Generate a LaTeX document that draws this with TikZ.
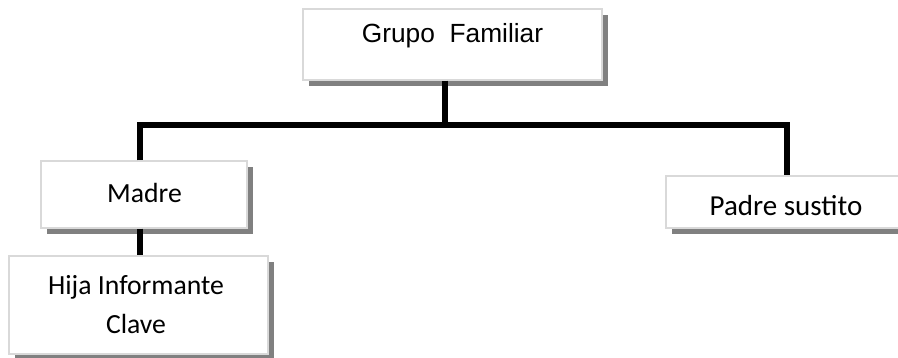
\documentclass[tikz,border=0pt]{standalone}
\usepackage{fontspec}
\setmainfont{Liberation Sans}
\newfontfamily\calibri{Carlito}
\usetikzlibrary{shadows,calc}
\definecolor{boxgray}{RGB}{217,217,217}
\definecolor{shadowgray}{RGB}{128,128,128}
\begin{document}
\begin{tikzpicture}[x=1pt,y=-1pt,
  box/.style={draw=boxgray, line width=1.3pt, fill=white, inner sep=0pt,
    drop shadow={shadow xshift=6pt, shadow yshift=-6pt, fill=shadowgray, opacity=1}},
  conn/.style={line width=5.8pt, draw=black, line join=miter},
  arialtxt/.style={font=\fontsize{26.3}{30}\selectfont, inner sep=0pt},
  caltxt/.style={font=\calibri\fontsize{27.7}{39}\selectfont, inner sep=0pt, align=center}]
\useasboundingbox (0,0) rectangle (898,357);
\clip (0,0) rectangle (898,357);
\fill[white] (0,0) rectangle (898,357);
% boxes
\node[box, minimum width=299pt, minimum height=71pt] (g) at (452.5,44.5) {};
\node[box, minimum width=206pt, minimum height=67pt] (m) at (144,194.5) {};
\node[box, minimum width=259pt, minimum height=98pt] (h) at (138.5,305) {};
\node[box, minimum width=240pt, minimum height=52pt] (p) at (786,202) {};
% texts
\node[arialtxt, anchor=base] (gt) at (452.5,42) {Grupo\ \ Familiar};
\node[caltxt, anchor=base] (mt) at (144.5,202) {Madre};
\node[caltxt, anchor=base] (ht) at (136,333) {Hija Informante\\Clave};
\node[caltxt, anchor=base, font=\calibri\fontsize{29}{39}\selectfont] (pt) at (786,215) {Padre sustito};
% connectors
\coordinate (gx) at (445,125);
\coordinate (barL) at (140,125);
\coordinate (barR) at (786.7,125);
\draw[conn] (g.south -| gx) -- (gx);
\draw[conn] (m.north -| barL) |- (barR) -- (p.north -| barR);
\draw[conn] (m.south -| barL) -- (h.north -| barL);
\end{tikzpicture}
\end{document}
